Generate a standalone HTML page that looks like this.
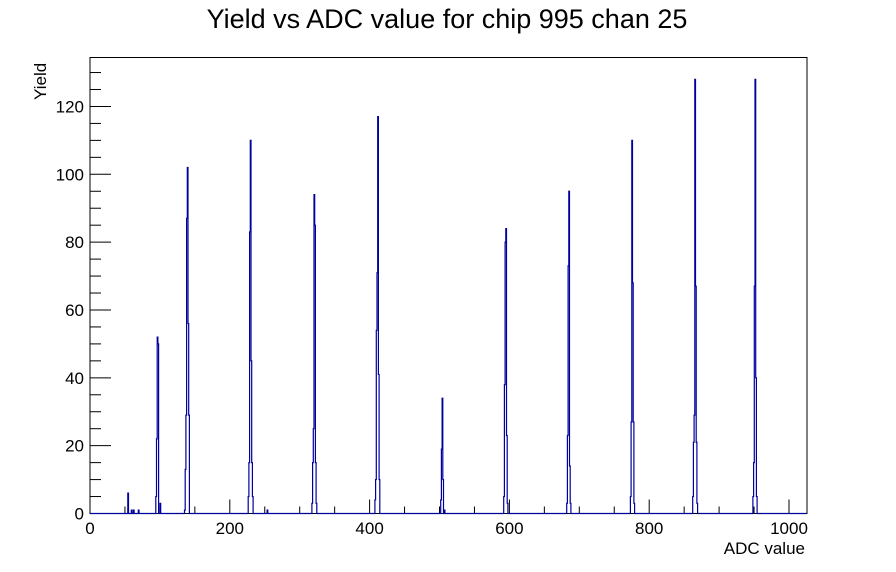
<!DOCTYPE html>
<html><head><meta charset="utf-8"><style>
body{margin:0;background:#fff;}
svg{display:block;font-family:"Liberation Sans",Arial,sans-serif;}
</style></head><body>
<svg id="s" width="896" height="572" xmlns="http://www.w3.org/2000/svg">
<rect width="896" height="572" fill="#fff"/>
<text x="447" y="28" font-size="27" text-anchor="middle">Yield vs ADC value for chip 995 chan 25</text>
<rect x="90" y="57.5" width="717" height="456" fill="none" stroke="#000" stroke-width="1"/>
<g id="ticks" stroke="#000" stroke-width="1"></g>
<g id="labels" font-size="17"></g>
<text x="805" y="554" font-size="17" text-anchor="end">ADC value</text>
<text transform="translate(46,100) rotate(-90)" font-size="17" text-anchor="start">Yield</text>
<path id="h" fill="none" stroke="#00009c" stroke-width="1.2"/>
</svg>
<script>
var X0=90,SX=0.699,Y0=513.5,SY=3.392;
var t=document.getElementById('ticks'),l=document.getElementById('labels'),ns='http://www.w3.org/2000/svg';
function ln(a,b,c,d){var e=document.createElementNS(ns,'line');e.setAttribute('x1',a);e.setAttribute('y1',b);e.setAttribute('x2',c);e.setAttribute('y2',d);t.appendChild(e);}
function tx(x,y,s,a){var e=document.createElementNS(ns,'text');e.setAttribute('x',x);e.setAttribute('y',y);e.setAttribute('text-anchor',a);e.textContent=s;l.appendChild(e);}
for(var v=0;v<=1000;v+=50){var x=X0+v*SX;ln(x,Y0,x,Y0-(v%200==0?14:7));if(v%200==0)tx(x,534,v,'middle');}
for(var v=0;v<=130;v+=5){var y=Y0-v*SY;ln(X0,y,X0+(v%20==0?21:11),y);if(v%20==0)tx(84,y+6,v,'end');}
var BW=0.7,N=1024,h=new Array(N).fill(0);
function set(px,vals,p){var i=Math.round((px-X0)/BW)-p;for(var k=0;k<vals.length;k++){if(i+k>=0&&i+k<N)h[i+k]=vals[k];}}
set(128,[6,0],0);set(131,[1,0,0,1],0);set(138,[1],0);
set(157,[5,22,52,50,0,0,3],2);
set(187,[1,13,29,87,102,56,29,0],4);
set(250,[5,15,83,110,45,15,5],3);set(267,[1],0);
set(314,[3,15,25,94,85,15,3],3);
set(378,[4,10,54,71,117,41,10],4);
set(442,[4,19,34,10,0,1],2);
set(506,[5,38,80,84,23,3],3);
set(569,[3,23,73,95,14,3],3);
set(632,[5,27,110,68,27,3],2);
set(695,[5,21,29,128,67,21,3],3);
set(755,[5,15,67,128,40,5],3);
var d='M'+X0+' '+Y0;
for(var i=0;i<N;i++){var x=X0+i*BW,y=Y0-h[i]*SY;d+=' L'+x.toFixed(2)+' '+y.toFixed(2)+' L'+(x+BW).toFixed(2)+' '+y.toFixed(2);}
document.getElementById('h').setAttribute('d',d);
</script>
</body></html>
